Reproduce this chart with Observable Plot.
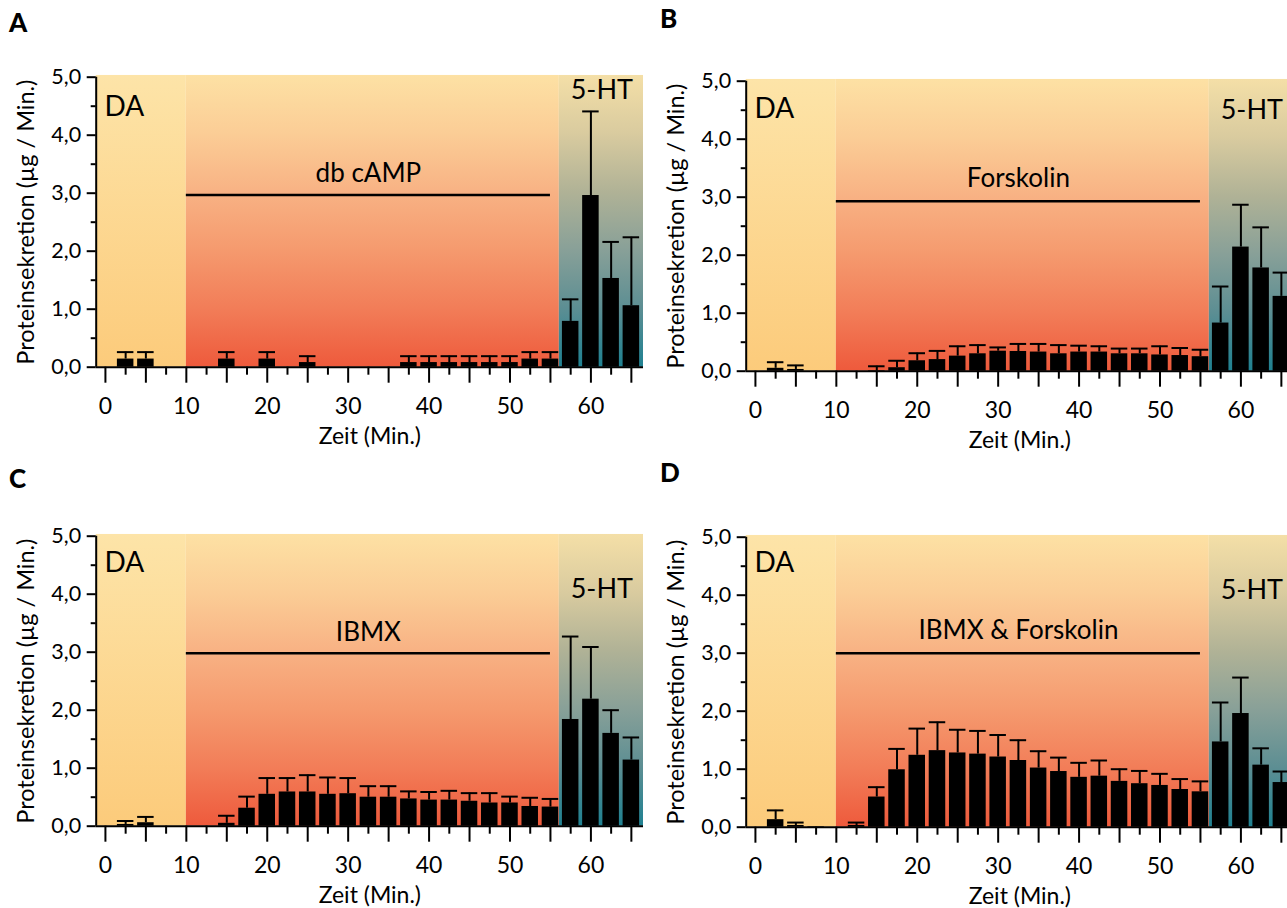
<!DOCTYPE html>
<html>
<head>
<meta charset="utf-8">
<script src="https://cdn.jsdelivr.net/npm/d3@7"></script>
<script src="https://cdn.jsdelivr.net/npm/@observablehq/plot@0.6"></script>
<style>
  html, body { margin: 0; padding: 0; background: #fff; overflow: hidden; }
  #root { position: relative; width: 1287px; height: 908px; overflow: hidden; font-family: Lato, sans-serif; }
  .panel { position: absolute; width: 650px; }
  .letter { position: absolute; font-family: Lato, sans-serif; font-weight: 900; font-size: 26px; line-height: 1; color: #000; }
</style>
</head>
<body>
<div id="root"></div>
<script>
// ---- data ----
const time = [0, 2.5, 5, 7.5, 10, 12.5, 15, 17.5, 20, 22.5, 25, 27.5, 30, 32.5, 35, 37.5, 40, 42.5, 45, 47.5, 50, 52.5, 55, 57.5, 60, 62.5, 65];

const dbcampMean = [0, 0.14, 0.14, 0, 0, 0, 0.14, 0, 0.14, 0, 0.08, 0, 0, 0, 0, 0.08, 0.08, 0.08, 0.08, 0.08, 0.08, 0.14, 0.14, 0.79, 2.96, 1.53, 1.06];
const dbcampUpper = [0, 0.26, 0.26, 0, 0, 0, 0.26, 0, 0.26, 0, 0.19, 0, 0, 0, 0, 0.19, 0.19, 0.19, 0.19, 0.19, 0.19, 0.26, 0.26, 1.17, 4.41, 2.16, 2.24];

const forskolinMean = [0, 0.05, 0.03, 0, 0, 0, 0.01, 0.06, 0.18, 0.20, 0.26, 0.30, 0.345, 0.34, 0.33, 0.30, 0.33, 0.33, 0.30, 0.30, 0.28, 0.27, 0.25, 0.83, 2.14, 1.78, 1.29];
const forskolinUpper = [0, 0.155, 0.10, 0, 0, 0, 0.085, 0.18, 0.31, 0.35, 0.43, 0.45, 0.41, 0.47, 0.47, 0.45, 0.44, 0.43, 0.39, 0.39, 0.43, 0.40, 0.37, 1.46, 2.87, 2.48, 1.70];

const ibmxMean = [0, 0.03, 0.06, 0, 0, 0, 0.05, 0.31, 0.55, 0.59, 0.59, 0.55, 0.56, 0.50, 0.50, 0.47, 0.45, 0.45, 0.43, 0.40, 0.40, 0.34, 0.33, 1.84, 2.19, 1.60, 1.14];
const ibmxUpper = [0, 0.09, 0.16, 0, 0, 0, 0.18, 0.51, 0.83, 0.83, 0.88, 0.84, 0.83, 0.69, 0.69, 0.60, 0.59, 0.61, 0.57, 0.57, 0.51, 0.49, 0.47, 3.27, 3.09, 2.00, 1.53];

const comboMean = [0, 0.13, 0.03, 0.01, 0, 0.03, 0.52, 0.99, 1.24, 1.32, 1.28, 1.26, 1.21, 1.15, 1.02, 0.96, 0.86, 0.88, 0.79, 0.75, 0.72, 0.65, 0.61, 1.47, 1.96, 1.07, 0.77];
const comboUpper = [0, 0.29, 0.08, 0, 0, 0.08, 0.69, 1.35, 1.70, 1.81, 1.68, 1.66, 1.59, 1.50, 1.31, 1.20, 1.11, 1.15, 1.00, 0.97, 0.92, 0.83, 0.79, 2.15, 2.58, 1.36, 0.96];

const panelLetters = ["A", "B", "C", "D"];
const drugNames = ["db cAMP", "Forskolin", "IBMX", "IBMX & Forskolin"];
const phaseNames = ["DA", "5-HT"];
const phaseBounds = [10, 56.1];   // minutes: DA ends, 5-HT begins
const drugBar = [10, 55];         // minutes: extent of the treatment line
const yMajor = [0, 1, 2, 3, 4, 5];
const yTickLabels = ["0,0", "1,0", "2,0", "3,0", "4,0", "5,0"];
const yMinor = [0.5, 1.5, 2.5, 3.5, 4.5];
const xLabelTicks = [0, 10, 20, 30, 40, 50, 60];
const xTickLabels = ["0", "10", "20", "30", "40", "50", "60"];
const xLongTicks = [0, 5, 10, 15, 20, 25, 30, 35, 40, 45, 50, 55, 60, 65];
const xShortTicks = [2.5, 7.5, 12.5, 17.5, 22.5, 27.5, 32.5, 37.5, 42.5, 47.5, 52.5, 57.5, 62.5];
const yLabel = "Proteinsekretion (µg / Min.)";
const xLabel = "Zeit (Min.)";

// ---- layout ----
const xDomain = [-1.14, 66.5];
const panels = [
  {letter: 0, mean: dbcampMean, upper: dbcampUpper, left: 0, top: 0, daY: 4.33, htY: 4.63, drugY: 3.19, lineY: 2.97, lx: 9, ly: 9},
  {letter: 1, mean: forskolinMean, upper: forskolinUpper, left: 650, top: 4, daY: 4.37, htY: 4.35, drugY: 3.17, lineY: 2.93, lx: 660, ly: 5},
  {letter: 2, mean: ibmxMean, upper: ibmxUpper, left: 0, top: 459, daY: 4.39, htY: 3.94, drugY: 3.2, lineY: 2.98, lx: 9, ly: 465},
  {letter: 3, mean: comboMean, upper: comboUpper, left: 650, top: 460, daY: 4.4, htY: 3.93, drugY: 3.25, lineY: 3.0, lx: 660, ly: 459}
];

const gradients = {
  da: [["0%", "#fde4a8"], ["100%", "#fccb7b"]],
  drug: [["0%", "#fde1a4"], ["20%", "#fbcd96"], ["40%", "#f8b284"], ["60%", "#f59a6e"], ["80%", "#f27d58"], ["100%", "#ee5a3c"]],
  ht: [["0%", "#f4dfa7"], ["20%", "#d9cb9f"], ["40%", "#b0b296"], ["60%", "#88a098"], ["80%", "#5c8e93"], ["100%", "#1f8191"]]
};

function makePanel(cfg, k) {
  const rows = time.map((t, i) => ({t, v: cfg.mean[i], e: cfg.upper[i]}));
  const bars = rows.filter(d => d.v > 0);
  const errs = rows.filter(d => d.e > d.v);
  const gid = "g" + k;
  const defs = () => {
    const d = d3.create("svg:defs");
    for (const [name, stops] of Object.entries(gradients)) {
      const g = d.append("linearGradient").attr("id", `${gid}-${name}`)
        .attr("x1", 0).attr("y1", 0).attr("x2", 0).attr("y2", 1);
      for (const [o, c] of stops) g.append("stop").attr("offset", o).attr("stop-color", c);
    }
    return d.node();
  };
  const phases = [
    {name: "da", x1: xDomain[0], x2: phaseBounds[0]},
    {name: "drug", x1: phaseBounds[0], x2: phaseBounds[1]},
    {name: "ht", x1: phaseBounds[1], x2: xDomain[1]}
  ];
  return Plot.plot({
    width: 650, height: 455,
    marginLeft: 95.7, marginRight: 7, marginTop: 76.7, marginBottom: 88.3,
    x: {domain: xDomain},
    y: {domain: [0, 5]},
    style: {fontFamily: "Lato, sans-serif", color: "#000", background: "transparent", overflow: "visible", maxWidth: "none"},
    marks: [
      defs,
      ...phases.map(p => Plot.rect([p], {x1: "x1", x2: "x2", y1: 0, y2: 5.03, fill: `url(#${gid}-${p.name})`})),
      Plot.rectY(bars, {x1: d => d.t - 1.02, x2: d => d.t + 1.02, y: "v", fill: "#000"}),
      Plot.ruleX(errs, {x: "t", y1: "v", y2: "e", stroke: "#000", strokeWidth: 2}),
      Plot.ruleY(errs, {y: "e", x1: d => d.t - 1.02, x2: d => d.t + 1.02, stroke: "#000", strokeWidth: 2}),
      Plot.ruleY([cfg.lineY], {x1: drugBar[0], x2: drugBar[1], stroke: "#000", strokeWidth: 2.5}),
      Plot.text([phaseNames[0]], {x: -0.1, y: cfg.daY, text: d => d, textAnchor: "start", lineAnchor: "bottom", fontSize: 28}),
      Plot.text([phaseNames[1]], {x: 61.35, y: cfg.htY, text: d => d, textAnchor: "middle", lineAnchor: "bottom", fontSize: 27}),
      Plot.text([drugNames[cfg.letter]], {x: (drugBar[0] + drugBar[1]) / 2, y: cfg.drugY, text: d => d, textAnchor: "middle", lineAnchor: "bottom", fontSize: 26}),
      Plot.ruleX([xDomain[0]], {y1: 0, y2: 5, stroke: "#000", strokeWidth: 2}),
      Plot.ruleY([0], {stroke: "#000", strokeWidth: 2}),
      Plot.axisY(yMajor, {tickSize: 9, strokeWidth: 2, tickFormat: () => "", label: null}),
      Plot.axisY(yMinor, {tickSize: 5, strokeWidth: 2, tickFormat: () => "", label: null}),
      Plot.axisX(xLongTicks, {tickSize: 16, strokeWidth: 2, tickFormat: () => "", label: null}),
      Plot.axisX(xShortTicks, {tickSize: 8, strokeWidth: 2, tickFormat: () => "", label: null}),
      Plot.text(yMajor, {x: xDomain[0], y: d => d, dx: -15, textAnchor: "end", lineAnchor: "middle", fontSize: 21.5, text: d => yTickLabels[yMajor.indexOf(d)]}),
      Plot.text(xLabelTicks, {x: d => d, y: 0, dy: 46.6, textAnchor: "middle", lineAnchor: "bottom", fontSize: 23, text: d => xTickLabels[xLabelTicks.indexOf(d)]}),
      Plot.text([yLabel], {frameAnchor: "left", dx: -70, rotate: -90, textAnchor: "middle", lineAnchor: "middle", text: d => d, fontSize: 23.5}),
      Plot.text([xLabel], {frameAnchor: "bottom", dy: 76.6, textAnchor: "middle", lineAnchor: "bottom", text: d => d, fontSize: 23})
    ]
  });
}

const root = document.getElementById("root");
panels.forEach((cfg, k) => {
  const div = document.createElement("div");
  div.className = "panel";
  div.style.left = cfg.left + "px";
  div.style.top = cfg.top + "px";
  div.appendChild(makePanel(cfg, k));
  root.appendChild(div);
});
panels.forEach(cfg => {
  const l = document.createElement("div");
  l.className = "letter";
  l.style.left = cfg.lx + "px";
  l.style.top = cfg.ly + "px";
  l.textContent = panelLetters[cfg.letter];
  root.appendChild(l);
});
</script>
</body>
</html>
